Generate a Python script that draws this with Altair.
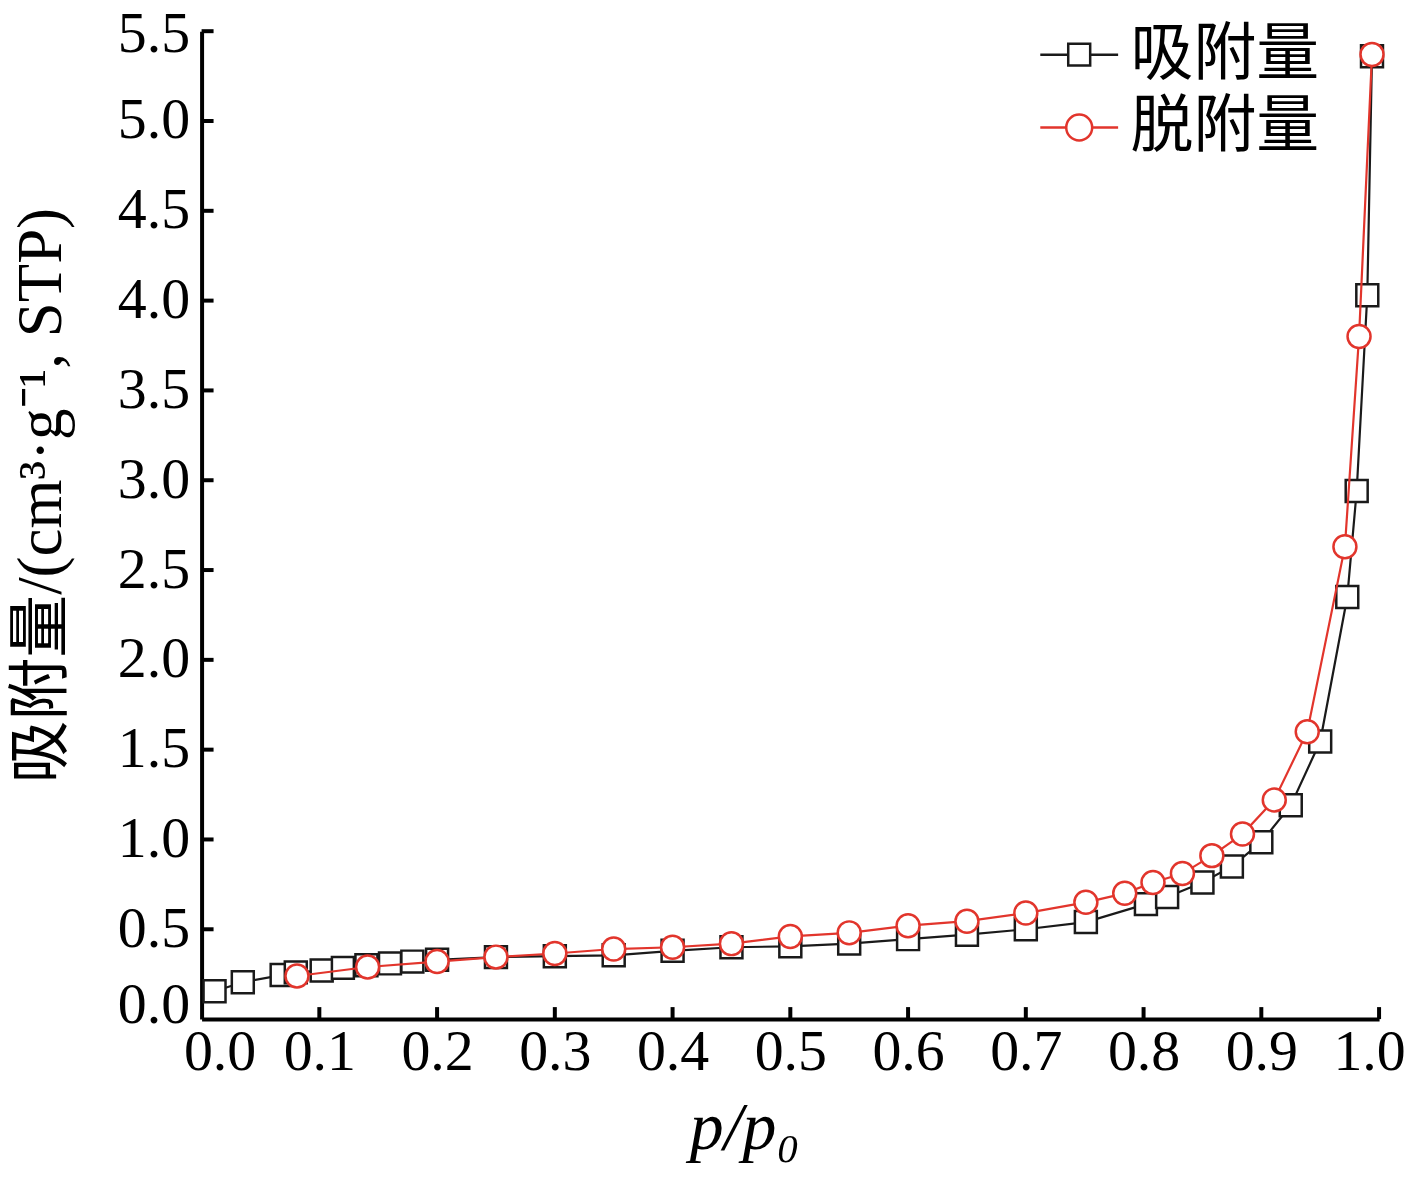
import altair as alt
import pandas as pd

# adsorption branch (squares)
ads_x = [0.011, 0.035, 0.068, 0.080, 0.102, 0.120, 0.140, 0.160, 0.179, 0.200,
         0.250, 0.300, 0.350, 0.400, 0.450, 0.500, 0.550, 0.600, 0.650, 0.700,
         0.751, 0.802, 0.820, 0.850, 0.875, 0.900, 0.925, 0.950, 0.973, 0.981,
         0.990, 0.994]
ads_y = [0.155, 0.205, 0.245, 0.260, 0.270, 0.285, 0.300, 0.310, 0.320, 0.330,
         0.345, 0.350, 0.355, 0.380, 0.400, 0.405, 0.420, 0.445, 0.470, 0.500,
         0.540, 0.640, 0.680, 0.760, 0.850, 0.985, 1.190, 1.545, 2.350, 2.940,
         4.030, 5.360]

# desorption branch (circles)
des_x = [0.081, 0.141, 0.200, 0.250, 0.300, 0.350, 0.400, 0.450, 0.500, 0.550,
         0.600, 0.650, 0.700, 0.751, 0.784, 0.808, 0.833, 0.858, 0.884, 0.911,
         0.939, 0.971, 0.983, 0.994]
des_y = [0.240, 0.290, 0.320, 0.345, 0.365, 0.390, 0.400, 0.420, 0.460, 0.480,
         0.520, 0.545, 0.590, 0.650, 0.700, 0.760, 0.810, 0.910, 1.030, 1.220,
         1.600, 2.630, 3.800, 5.370]

series_names = ["吸附量", "脱附量"]
series_colors = ["#1a1a1a", "#e2352c"]

x_ticks = [0.1, 0.2, 0.3, 0.4, 0.5, 0.6, 0.7, 0.8, 0.9, 1.0]
y_ticks = [0.5, 1.0, 1.5, 2.0, 2.5, 3.0, 3.5, 4.0, 4.5, 5.0, 5.5]
x_labels_vals = [0.0, 0.1, 0.2, 0.3, 0.4, 0.5, 0.6, 0.7, 0.8, 0.9, 1.0]
y_labels_vals = [0.0, 0.5, 1.0, 1.5, 2.0, 2.5, 3.0, 3.5, 4.0, 4.5, 5.0, 5.5]

W, H = 1180, 990

ads = pd.DataFrame({"x": ads_x, "y": ads_y, "i": range(len(ads_x))})
des = pd.DataFrame({"x": des_x, "y": des_y, "i": range(len(des_x))})
leg = pd.DataFrame({"series": series_names, "x": [0.5, 0.5], "y": [1.0, 1.0]})
xt = pd.DataFrame({"v": x_ticks})
yt = pd.DataFrame({"v": y_ticks})

serif = "Liberation Serif"
mixed = "'Liberation Serif', 'Noto Sans CJK SC'"

xscale = alt.Scale(domain=[0, 1.0], nice=False, zero=False)
yscale = alt.Scale(domain=[0, 5.5], nice=False, zero=False)

xaxis = alt.Axis(
    title="p/p₀", values=x_labels_vals, format=".1f", grid=False, ticks=False,
    domainColor="black", domainWidth=4, labelFont=serif, labelFontSize=58,
    labelColor="black", labelPadding=5, labelFlush=False,
    labelOffset={"condition": [{"test": "datum.value === 0", "value": 18},
                               {"test": "datum.value === 1", "value": -10}],
                 "value": 0},
    titleFont=serif, titleFontSize=68, titleFontStyle="italic", titleFontWeight="normal",
    titleColor="black", titleX=544, titleY=130, titleBaseline="alphabetic",
    titleAlign="center",
)
yaxis = alt.Axis(
    title="吸附量/(cm³·g⁻¹, STP)", values=y_labels_vals, format=".1f", grid=False,
    ticks=False, domainColor="black", domainWidth=4, labelFont=serif,
    labelFontSize=58, labelColor="black", labelPadding=12, labelFlush=False,
    labelOffset={"condition": [{"test": "datum.value === 0", "value": -14},
                               {"test": "datum.value === 5.5", "value": 3}],
                 "value": 0},
    titleFont=mixed, titleFontSize=63, titleFontWeight="normal", titleColor="black",
    titleX=-160, titleY=465, titleBaseline="middle", titleAngle=-90,
)

ads_line = alt.Chart(ads).mark_line(color=series_colors[0], strokeWidth=2.2).encode(
    x=alt.X("x:Q", scale=xscale, axis=xaxis),
    y=alt.Y("y:Q", scale=yscale, axis=yaxis),
    order="i:Q",
)
ads_pts = alt.Chart(ads).mark_square(
    filled=True, color="white", stroke=series_colors[0], strokeWidth=2.5,
    size=484, opacity=1,
).encode(x=alt.X("x:Q", scale=xscale), y=alt.Y("y:Q", scale=yscale))

des_line = alt.Chart(des).mark_line(color=series_colors[1], strokeWidth=2.2).encode(
    x=alt.X("x:Q", scale=xscale),
    y=alt.Y("y:Q", scale=yscale),
    order="i:Q",
)
des_pts = alt.Chart(des).mark_circle(
    color="white", stroke=series_colors[1], strokeWidth=2.5, size=530, opacity=1,
).encode(x=alt.X("x:Q", scale=xscale), y=alt.Y("y:Q", scale=yscale))

sq_path = "M-1.95,0H-0.55M0.55,0H1.95M-0.55,-0.55H0.55V0.55H-0.55Z"
ci_path = ("M-1.95,0H-0.65M0.65,0H1.95M-0.65,0A0.65,0.65 0 1,1 0.65,0"
           "A0.65,0.65 0 1,1 -0.65,0Z")

legend_opts = dict(
    title=None, orient="none", legendX=848, legendY=-8, padding=0,
    symbolSize=1600, symbolStrokeWidth=2.5, labelFont="Noto Sans CJK SC",
    labelFontSize=63, labelColor="black", labelOffset=20, rowPadding=9,
    symbolOpacity=1, labelLimit=400,
)

legend_layer = alt.Chart(leg).transform_filter("datum.y > 100").mark_point(
    filled=False, strokeWidth=2.5, opacity=1
).encode(
    x=alt.X("x:Q", scale=xscale),
    y=alt.Y("y:Q", scale=yscale),
    color=alt.Color(
        "series:N",
        scale=alt.Scale(domain=series_names, range=series_colors),
        legend=alt.Legend(**legend_opts),
    ),
    shape=alt.Shape(
        "series:N",
        scale=alt.Scale(domain=series_names, range=[sq_path, ci_path]),
        legend=alt.Legend(**legend_opts),
    ),
)

xtick_layer = alt.Chart(xt).mark_rule(color="black", strokeWidth=4).encode(
    x=alt.X("v:Q", scale=xscale), y=alt.value(H), y2=alt.value(H - 12)
)
ytick_layer = alt.Chart(yt).mark_rule(color="black", strokeWidth=4).encode(
    y=alt.Y("v:Q", scale=yscale), x=alt.value(0), x2=alt.value(12)
)

chart = alt.layer(
    ads_line, ads_pts, des_line, des_pts, legend_layer, xtick_layer, ytick_layer
).properties(
    width=W, height=H,
    autosize=alt.AutoSizeParams(type="none"),
    padding={"left": 194, "top": 22, "right": 30, "bottom": 150},
).configure_view(stroke=None)

chart.save("out.html", embed_options={"renderer": "svg", "actions": False})
